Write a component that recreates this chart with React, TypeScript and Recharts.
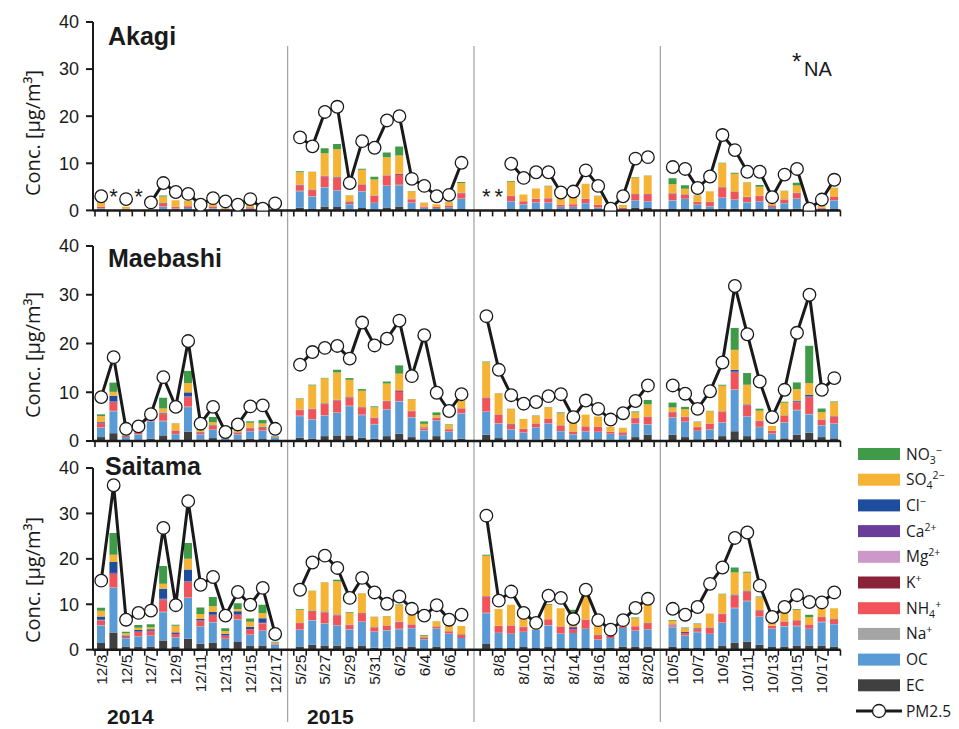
import React from 'react';
import { ComposedChart, Bar, Line, XAxis, YAxis } from 'recharts';

// sampling days, one block per campaign
const DEC_DAYS = ['12/3', '12/4', '12/5', '12/6', '12/7', '12/8', '12/9', '12/10', '12/11', '12/12', '12/13', '12/14', '12/15', '12/16', '12/17'];
const MAY_DAYS = ['5/25', '5/26', '5/27', '5/28', '5/29', '5/30', '5/31', '6/1', '6/2', '6/3', '6/4', '6/5', '6/6', '6/7'];
const AUG_DAYS = ['8/7', '8/8', '8/9', '8/10', '8/11', '8/12', '8/13', '8/14', '8/15', '8/16', '8/17', '8/18', '8/19', '8/20'];
const OCT_DAYS = ['10/5', '10/6', '10/7', '10/8', '10/9', '10/10', '10/11', '10/12', '10/13', '10/14', '10/15', '10/16', '10/17', '10/18'];
const PERIODS = [DEC_DAYS, MAY_DAYS, AUG_DAYS, OCT_DAYS];

const TICK_LABELS = ['12/3', '12/5', '12/7', '12/9', '12/11', '12/13', '12/15', '12/17', '5/25', '5/27', '5/29', '5/31', '6/2', '6/4', '6/6', '8/8', '8/10', '8/12', '8/14', '8/16', '8/18', '8/20', '10/5', '10/7', '10/9', '10/11', '10/13', '10/15', '10/17'];
const Y_TICKS = [0, 10, 20, 30, 40];
const YEAR_LABELS = ['2014', '2015'];

// ---- Akagi (null = not available) ----
const akagiEC = [
  0.1, null, 0.05, null, 0, 0.15, 0.05, 0.1, 0.05, 0.1, 0.05, 0, 0.05, 0, 0,
  0.55, 0.3, 0.85, 0.7, 0.2, 0.5, 0.15, 0.6, 0.85, 0.3, 0.05, 0.05, 0.1, 0.3,
  null, null, 0.3, 0.15, 0.2, 0.2, 0.05, 0.05, 0.2, 0.05, 0, 0.05, 0.6, 0.5,
  0.3, 0.3, 0.3, 0.1, 0.35, 0.35, 0.3, 0.3, 0.1, 0.2, 0.35, 0, 0.05, 0.3,
];
const akagiOC = [
  0.3, null, 0.1, null, 0.05, 0.6, 0.3, 0.4, 0.15, 0.3, 0.15, 0.1, 0.25, 0.05, 0.05,
  3.5, 2.6, 4.0, 3.5, 1.1, 3.5, 1.4, 4.6, 4.5, 1.3, 0.5, 0.45, 0.55, 2.1,
  null, null, 1.6, 1.1, 1.5, 1.4, 0.7, 0.7, 1.3, 0.55, 0.1, 0.2, 1.5, 1.4,
  1.8, 2.1, 0.9, 0.75, 2.3, 1.9, 1.4, 1.6, 0.6, 1.3, 2.1, 0.05, 0.3, 1.8,
];
const akagiNa = [
  0.05, null, 0.02, null, 0, 0.05, 0.03, 0.03, 0.02, 0.03, 0.02, 0.01, 0.03, 0, 0,
  0.1, 0.1, 0.1, 0.1, 0.05, 0.1, 0.08, 0.1, 0.1, 0.05, 0.03, 0.03, 0.04, 0.1,
  null, null, 0.05, 0.04, 0.05, 0.05, 0.03, 0.03, 0.05, 0.03, 0.01, 0.02, 0.06, 0.06,
  0.08, 0.08, 0.05, 0.05, 0.08, 0.08, 0.06, 0.06, 0.03, 0.05, 0.08, 0, 0.02, 0.06,
];
const akagiNH4 = [
  0.3, null, 0.15, null, 0.02, 0.6, 0.3, 0.3, 0.1, 0.3, 0.1, 0.05, 0.25, 0, 0,
  1.05, 1.3, 2.2, 2.55, 0.4, 1.3, 1.4, 2.0, 2.05, 0.7, 0.25, 0.2, 0.3, 1.05,
  null, null, 1.05, 0.6, 0.7, 0.9, 0.35, 0.5, 0.9, 0.5, 0.05, 0.25, 1.2, 1.4,
  1.3, 0.8, 0.5, 0.85, 2.0, 1.55, 1.05, 1.05, 0.3, 0.7, 1.05, 0, 0.2, 0.7,
];
const akagiK = [
  0.02, null, 0.01, null, 0, 0.05, 0.02, 0.02, 0.01, 0.02, 0.01, 0, 0.02, 0, 0,
  0.1, 0.06, 0.1, 0.1, 0.1, 0.06, 0.05, 0.08, 0.15, 0.04, 0.02, 0.02, 0.03, 0.1,
  null, null, 0.04, 0.03, 0.03, 0.04, 0.02, 0.02, 0.04, 0.02, 0, 0.01, 0.05, 0.05,
  0.06, 0.05, 0.03, 0.03, 0.06, 0.06, 0.04, 0.05, 0.02, 0.03, 0.05, 0, 0.01, 0.04,
];
const akagiMg = [
  0.01, null, 0, null, 0, 0.02, 0.01, 0.01, 0, 0.01, 0, 0, 0.01, 0, 0,
  0.05, 0.03, 0.04, 0.04, 0.05, 0.03, 0.02, 0.03, 0.04, 0.02, 0.01, 0.01, 0.01, 0.03,
  null, null, 0.02, 0.01, 0.02, 0.02, 0.01, 0.01, 0.02, 0.01, 0, 0.01, 0.02, 0.02,
  0.03, 0.03, 0.02, 0.02, 0.03, 0.03, 0.02, 0.02, 0.01, 0.02, 0.03, 0, 0.01, 0.02,
];
const akagiCa = [
  0.02, null, 0.01, null, 0, 0.03, 0.02, 0.02, 0.01, 0.02, 0.01, 0, 0.02, 0, 0,
  0.05, 0.04, 0.06, 0.06, 0.05, 0.04, 0.03, 0.05, 0.05, 0.03, 0.02, 0.02, 0.02, 0.04,
  null, null, 0.03, 0.02, 0.03, 0.03, 0.02, 0.02, 0.03, 0.02, 0, 0.01, 0.03, 0.03,
  0.04, 0.04, 0.03, 0.03, 0.05, 0.04, 0.03, 0.03, 0.02, 0.03, 0.04, 0, 0.01, 0.03,
];
const akagiCl = [
  0.03, null, 0.02, null, 0, 0.05, 0.02, 0.03, 0.01, 0.03, 0.01, 0.01, 0.03, 0, 0,
  0.02, 0.01, 0.02, 0.02, 0.01, 0.01, 0.01, 0.02, 0.02, 0.01, 0.01, 0, 0.01, 0.01,
  null, null, 0.01, 0.01, 0.01, 0.01, 0, 0, 0.01, 0, 0, 0, 0.01, 0.01,
  0.02, 0.02, 0.01, 0.01, 0.02, 0.02, 0.01, 0.01, 0.01, 0.01, 0.02, 0, 0.01, 0.01,
];
const akagiSO4 = [
  0.9, null, 0.4, null, 0.05, 1.4, 1.4, 1.1, 0.2, 0.7, 0.3, 0.15, 0.55, 0.05, 0.05,
  2.7, 3.7, 4.75, 5.9, 1.2, 3.1, 3.4, 3.8, 3.9, 1.6, 0.7, 0.5, 0.7, 2.1,
  null, null, 3.0, 1.4, 2.1, 2.5, 1.3, 1.6, 3.1, 1.9, 0.15, 0.6, 3.5, 3.9,
  1.9, 1.2, 1.3, 2.2, 5.1, 3.75, 3.0, 1.9, 0.6, 1.8, 1.55, 0.05, 0.3, 1.8,
];
const akagiNO3 = [
  0.03, null, 0, null, 0, 0.2, 0.02, 0.02, 0, 0.02, 0, 0, 0.02, 0, 0,
  0.2, 0.05, 1.1, 1.1, 0.05, 0.2, 0.6, 1.0, 1.9, 0.05, 0.05, 0.02, 0.05, 0.2,
  null, null, 0.15, 0.02, 0.03, 0.1, 0.02, 0.02, 0.03, 0.02, 0, 0.02, 0.1, 0.05,
  1.3, 0.7, 0.05, 0.05, 0.1, 0.2, 0.05, 0.35, 0.02, 0.05, 0.6, 0, 0.02, 0.05,
];
const akagiPM = [
  3.0, null, 2.4, null, 1.7, 5.8, 3.9, 3.5, 1.2, 2.6, 1.9, 1.2, 2.4, 0.35, 1.5,
  15.5, 13.6, 20.9, 22.0, 5.8, 14.7, 13.3, 19.1, 20.0, 6.7, 5.2, 3.0, 3.3, 10.1,
  null, null, 9.9, 6.9, 8.1, 8.1, 3.8, 4.0, 8.5, 5.2, 0.35, 3.0, 11.0, 11.3,
  9.2, 8.8, 4.75, 7.2, 16.0, 12.8, 8.2, 8.2, 2.8, 7.6, 8.8, 0.35, 2.3, 6.5,
];

// ---- Maebashi ----
const maebashiEC = [
  0.8, 1.6, 0.2, 0.2, 0.5, 1.15, 0.3, 1.9, 0.3, 0.6, 0.1, 0.3, 0.5, 0.4, 0.15,
  0.7, 0.5, 1.0, 1.15, 1.15, 0.7, 0.5, 1.0, 1.5, 0.8, 0.1, 1.0, 0.1, 0.5,
  1.3, 0.6, 0.35, 0.3, 0.3, 0.5, 0.35, 0.25, 0.35, 0.35, 0.25, 0.1, 0.8, 1.3,
  1.3, 0.8, 0.35, 0.5, 1.0, 2.0, 1.0, 0.55, 0.15, 0.55, 1.3, 1.7, 0.8, 0.55,
];
const maebashiOC = [
  1.9, 4.5, 0.6, 1.1, 3.5, 2.9, 1.1, 5.05, 1.0, 1.7, 0.4, 1.0, 1.5, 1.7, 0.5,
  4.4, 3.9, 4.2, 4.6, 6.0, 4.6, 2.9, 5.4, 6.6, 4.0, 2.0, 3.2, 1.8, 5.1,
  4.65, 2.95, 2.0, 1.4, 2.5, 3.1, 1.65, 1.1, 1.6, 1.5, 1.2, 1.1, 2.75, 2.05,
  3.5, 3.1, 1.7, 1.85, 2.75, 8.5, 4.0, 2.3, 1.35, 3.2, 5.0, 3.75, 2.4, 3.0,
];
const maebashiNa = [
  0.1, 0.1, 0.03, 0.05, 0.05, 0.1, 0.05, 0.1, 0.05, 0.05, 0.02, 0.05, 0.05, 0.05, 0.02,
  0.1, 0.1, 0.1, 0.1, 0.1, 0.1, 0.1, 0.1, 0.1, 0.1, 0.1, 0.05, 0.05, 0.1,
  0.1, 0.1, 0.05, 0.05, 0.05, 0.05, 0.05, 0.05, 0.05, 0.05, 0.05, 0.05, 0.05, 0.1,
  0.08, 0.08, 0.05, 0.05, 0.08, 0.1, 0.08, 0.05, 0.05, 0.08, 0.1, 0.1, 0.08, 0.08,
];
const maebashiNH4 = [
  0.8, 1.7, 0.2, 0.3, 0.4, 1.35, 0.6, 1.9, 0.4, 0.7, 0.1, 0.3, 0.55, 0.55, 0.1,
  1.1, 1.9, 2.25, 2.4, 1.5, 1.35, 1.15, 1.55, 1.9, 1.15, 0.3, 0.45, 0.4, 0.9,
  2.7, 1.7, 1.0, 0.7, 0.7, 0.9, 1.1, 0.5, 0.95, 1.0, 0.35, 0.5, 1.0, 1.45,
  0.95, 0.9, 0.7, 1.1, 2.1, 3.3, 2.25, 1.15, 0.5, 1.3, 1.5, 3.4, 1.0, 1.35,
];
const maebashiK = [
  0.1, 0.1, 0.02, 0.05, 0.03, 0.1, 0.03, 0.1, 0.03, 0.05, 0.01, 0.03, 0.05, 0.05, 0.01,
  0.05, 0.1, 0.1, 0.1, 0.15, 0.1, 0.1, 0.1, 0.15, 0.05, 0.1, 0.05, 0.03, 0.05,
  0.1, 0.05, 0.03, 0.03, 0.03, 0.03, 0.03, 0.02, 0.03, 0.03, 0.02, 0.02, 0.05, 0.05,
  0.05, 0.05, 0.03, 0.03, 0.05, 0.2, 0.08, 0.05, 0.02, 0.05, 0.08, 0.1, 0.05, 0.05,
];
const maebashiMg = [
  0.02, 0.03, 0.01, 0.01, 0.01, 0.02, 0.01, 0.03, 0.01, 0.01, 0, 0.01, 0.01, 0.01, 0,
  0.03, 0.03, 0.03, 0.05, 0.03, 0.03, 0.02, 0.03, 0.03, 0.02, 0.1, 0.02, 0.02, 0.02,
  0.03, 0.02, 0.01, 0.01, 0.01, 0.01, 0.01, 0.01, 0.01, 0.01, 0.01, 0.01, 0.02, 0.02,
  0.02, 0.02, 0.01, 0.02, 0.03, 0.05, 0.03, 0.02, 0.01, 0.02, 0.03, 0.03, 0.02, 0.02,
];
const maebashiCa = [
  0.05, 0.1, 0.02, 0.03, 0.03, 0.05, 0.03, 0.1, 0.03, 0.03, 0.01, 0.03, 0.03, 0.03, 0.01,
  0.05, 0.05, 0.05, 0.05, 0.05, 0.05, 0.03, 0.05, 0.1, 0.03, 0.1, 0.03, 0.03, 0.03,
  0.05, 0.03, 0.02, 0.02, 0.02, 0.02, 0.02, 0.02, 0.02, 0.02, 0.02, 0.02, 0.03, 0.03,
  0.03, 0.03, 0.02, 0.02, 0.05, 0.15, 0.05, 0.03, 0.02, 0.03, 0.05, 0.05, 0.03, 0.03,
];
const maebashiCl = [
  0.15, 1.15, 0.05, 0.05, 0.05, 0.1, 0.03, 0.8, 0.05, 0.1, 0.02, 0.05, 0.05, 0.1, 0.02,
  0.02, 0.02, 0.02, 0.02, 0.02, 0.02, 0.01, 0.02, 0.03, 0.02, 0.02, 0.02, 0.01, 0.02,
  0.02, 0.01, 0.01, 0.01, 0.01, 0.01, 0.01, 0.01, 0.01, 0.01, 0.01, 0.01, 0.02, 0.02,
  0.05, 0.03, 0.02, 0.02, 0.03, 0.3, 0.05, 0.03, 0.01, 0.03, 0.2, 0.35, 0.03, 0.03,
];
const maebashiSO4 = [
  1.2, 0.8, 0.15, 0.2, 0.3, 0.9, 1.45, 1.9, 0.3, 0.6, 0.1, 0.3, 1.0, 0.7, 0.1,
  2.2, 4.8, 5.1, 5.6, 3.55, 3.35, 2.1, 3.55, 3.4, 2.4, 0.7, 0.5, 0.9, 1.5,
  7.2, 4.3, 3.1, 2.0, 1.5, 2.3, 2.45, 1.9, 2.4, 2.05, 1.0, 0.9, 1.15, 2.5,
  0.9, 1.5, 1.0, 2.5, 5.25, 4.1, 4.0, 2.05, 1.0, 2.6, 2.4, 2.4, 1.5, 2.85,
];
const maebashiNO3 = [
  0.35, 1.9, 0.1, 0.1, 0.2, 2.2, 0.05, 2.5, 0.3, 1.1, 0.1, 0.3, 0.3, 0.7, 0.15,
  0.1, 0.15, 0.1, 0.55, 0.35, 0.35, 0.2, 0.4, 1.7, 0.05, 0.5, 0.55, 0.1, 0.1,
  0.15, 0.05, 0.05, 0, 0.1, 0.05, 0.2, 0, 0, 0, 0, 0, 0.2, 0.9,
  1.0, 0.5, 0.1, 0.1, 0.2, 4.5, 2.4, 0.4, 0, 0.2, 1.35, 7.65, 0.75, 0.15,
];
const maebashiPM = [
  9.0, 17.2, 2.5, 3.0, 5.5, 13.1, 7.0, 20.5, 3.55, 7.0, 1.85, 3.4, 7.1, 7.3, 2.5,
  15.65, 18.25, 19.1, 19.5, 16.9, 24.3, 19.6, 21.0, 24.7, 13.3, 21.7, 9.9, 6.15, 9.6,
  25.6, 14.6, 9.4, 7.65, 8.0, 9.2, 9.6, 4.9, 8.3, 6.6, 4.4, 5.7, 8.2, 11.4,
  11.4, 9.7, 6.6, 10.2, 16.1, 31.8, 21.9, 12.2, 4.9, 10.5, 22.2, 30.0, 10.5, 12.9,
];

// ---- Saitama ----
const saitamaEC = [
  1.45, 3.8, 0.7, 0.7, 0.7, 2.05, 0.6, 2.4, 1.3, 1.6, 0.35, 1.7, 0.95, 0.95, 0.1,
  0.7, 1.1, 0.95, 0.9, 0.6, 0.9, 0.45, 0.45, 0.7, 0.7, 0.1, 0.7, 0.35, 0.2,
  1.25, 0.35, 0.35, 0.6, 0.35, 0.6, 0.35, 0.35, 0.35, 0.35, 0.5, 0.7, 0.7, 0.7,
  0.7, 0.35, 0.35, 0.35, 0.9, 1.6, 1.75, 1.1, 0.6, 0.7, 0.9, 0.9, 0.9, 0.7,
];
const saitamaOC = [
  3.9, 9.8, 1.75, 2.2, 2.4, 6.2, 2.1, 9.0, 3.8, 4.4, 2.05, 4.9, 2.35, 3.2, 1.0,
  3.65, 5.35, 4.75, 4.4, 3.8, 5.2, 3.45, 3.8, 3.8, 4.0, 2.2, 3.9, 3.15, 2.35,
  6.8, 3.3, 3.1, 3.3, 4.0, 4.75, 3.15, 3.3, 4.2, 1.85, 2.05, 4.05, 3.45, 3.8,
  4.25, 2.7, 3.5, 3.1, 5.0, 7.55, 8.9, 6.1, 4.0, 4.4, 4.25, 3.65, 5.15, 4.9,
];
const saitamaNa = [
  0.1, 0.15, 0.05, 0.05, 0.05, 0.1, 0.05, 0.1, 0.08, 0.08, 0.03, 0.08, 0.05, 0.05, 0.02,
  0.1, 0.1, 0.1, 0.1, 0.1, 0.1, 0.08, 0.08, 0.1, 0.08, 0.05, 0.05, 0.05, 0.05,
  0.1, 0.1, 0.08, 0.05, 0.05, 0.08, 0.05, 0.05, 0.08, 0.05, 0.05, 0.05, 0.05, 0.08,
  0.1, 0.1, 0.08, 0.08, 0.1, 0.1, 0.1, 0.1, 0.05, 0.1, 0.1, 0.08, 0.08, 0.08,
];
const saitamaNH4 = [
  0.9, 2.8, 0.3, 0.95, 0.9, 2.55, 0.6, 3.3, 1.1, 1.45, 0.65, 0.95, 1.1, 1.55, 0.2,
  1.3, 1.8, 2.35, 2.05, 0.9, 1.75, 0.9, 0.9, 1.45, 0.7, 0.3, 0.35, 0.5, 0.7,
  3.45, 1.45, 1.7, 1.0, 0, 1.25, 1.45, 0.7, 1.9, 0.9, 0.4, 0.25, 0.95, 1.2,
  0.3, 0.45, 0.5, 1.2, 1.8, 2.55, 1.85, 1.25, 0.6, 0.9, 1.1, 0.8, 0.95, 0.95,
];
const saitamaK = [
  0.1, 0.2, 0.03, 0.05, 0.05, 0.15, 0.1, 0.15, 0.05, 0.08, 0.03, 0.05, 0.05, 0.08, 0.01,
  0.05, 0.05, 0.1, 0.15, 0.05, 0.05, 0.03, 0.03, 0.05, 0.03, 0.02, 0.03, 0.02, 0.02,
  0.05, 0.03, 0.03, 0.03, 0.02, 0.03, 0.03, 0.03, 0.03, 0.03, 0.02, 0.03, 0.03, 0.03,
  0.05, 0.05, 0.05, 0.05, 0.08, 0.15, 0.15, 0.08, 0.03, 0.05, 0.05, 0.05, 0.05, 0.05,
];
const saitamaMg = [
  0.05, 0.05, 0.02, 0.02, 0.02, 0.05, 0.03, 0.05, 0.03, 0.03, 0.01, 0.03, 0.02, 0.03, 0.01,
  0.03, 0.03, 0.03, 0.03, 0.03, 0.03, 0.02, 0.02, 0.03, 0.02, 0.02, 0.02, 0.02, 0.02,
  0.03, 0.02, 0.02, 0.02, 0.01, 0.02, 0.02, 0.03, 0.02, 0.02, 0.01, 0.01, 0.02, 0.02,
  0.1, 0.05, 0.03, 0.02, 0.03, 0.05, 0.05, 0.03, 0.02, 0.02, 0.02, 0.02, 0.02, 0.02,
];
const saitamaCa = [
  0.1, 0.3, 0.05, 0.05, 0.05, 0.1, 0.3, 0.1, 0.05, 0.05, 0.03, 0.05, 0.05, 0.05, 0.02,
  0.05, 0.05, 0.1, 0.1, 0.05, 0.05, 0.03, 0.03, 0.05, 0.03, 0.03, 0.03, 0.03, 0.03,
  0.05, 0.03, 0.03, 0.03, 0.02, 0.03, 0.03, 0.5, 0.03, 0.03, 0.02, 0.02, 0.03, 0.03,
  0.1, 0.2, 0.2, 0.05, 0.05, 0.1, 0.08, 0.05, 0.03, 0.03, 0.03, 0.03, 0.03, 0.03,
];
const saitamaCl = [
  0.7, 2.2, 0.2, 0.3, 0.35, 2.2, 0.05, 2.55, 0.35, 0.6, 0.35, 0.7, 0.5, 1.0, 0.05,
  0.02, 0.02, 0.02, 0.02, 0.02, 0.02, 0.02, 0.02, 0.02, 0.02, 0.01, 0.01, 0.01, 0.01,
  0.02, 0.01, 0.01, 0.01, 0.01, 0.01, 0.01, 0.01, 0.01, 0.01, 0.01, 0.01, 0.01, 0.01,
  0.02, 0.02, 0.02, 0.02, 0.03, 0.05, 0.05, 0.03, 0.02, 0.02, 0.02, 0.02, 0.02, 0.02,
];
const saitamaSO4 = [
  1.25, 1.6, 0.5, 0.5, 0.4, 1.1, 1.45, 2.35, 1.1, 1.25, 0.6, 0.5, 1.1, 1.1, 0.2,
  2.85, 4.4, 6.4, 7.3, 2.55, 4.25, 2.2, 2.05, 3.6, 2.05, 0.35, 1.1, 1.1, 1.85,
  8.95, 3.65, 4.55, 2.05, 0.1, 3.15, 4.05, 3.3, 5.3, 2.2, 0.3, 0, 1.7, 4.2,
  0.75, 0.8, 0.9, 3.1, 4.2, 4.85, 4.0, 2.8, 0.5, 1.85, 2.35, 1.6, 2.05, 2.4,
];
const saitamaNO3 = [
  0.7, 4.8, 0.35, 0.6, 0.7, 3.9, 0.2, 3.5, 1.45, 2.05, 0.6, 1.25, 0.7, 1.9, 0.15,
  0.15, 0.1, 0.05, 0.35, 0.15, 0.05, 0.05, 0.05, 0.15, 0.05, 0.15, 0.05, 0, 0,
  0.2, 0, 0.05, 0, 0, 0.15, 0, 0.5, 0, 0, 0, 0, 0.15, 0,
  0.15, 0.15, 0.15, 0, 0.1, 1.1, 0.25, 0.15, 0, 0, 0.15, 0.55, 0, 0,
];
const saitamaPM = [
  15.2, 36.2, 6.6, 8.1, 8.6, 26.8, 9.8, 32.7, 14.3, 16.0, 7.5, 12.7, 9.9, 13.6, 3.45,
  13.2, 19.2, 20.7, 18.0, 11.4, 15.8, 12.6, 10.1, 11.7, 9.0, 7.5, 9.8, 6.6, 7.7,
  29.5, 10.8, 12.8, 8.1, 5.9, 11.9, 11.4, 6.75, 13.2, 6.5, 4.4, 6.5, 9.2, 11.2,
  9.0, 7.7, 9.4, 14.5, 18.1, 24.6, 25.8, 14.1, 7.2, 9.4, 12.0, 10.5, 10.4, 12.6,
];

// stack order bottom -> top; label parts: n = normal, b = subscript, p = superscript
const SPECIES = [
  { key: 'EC', color: '#404040', label: [['EC', 'n']] },
  { key: 'OC', color: '#5b9bd5', label: [['OC', 'n']] },
  { key: 'Na', color: '#a5a5a5', label: [['Na', 'n'], ['+', 'p']] },
  { key: 'NH4', color: '#f0545a', label: [['NH', 'n'], ['4', 'b'], ['+', 'p']] },
  { key: 'K', color: '#8b2338', label: [['K', 'n'], ['+', 'p']] },
  { key: 'Mg', color: '#cc98c9', label: [['Mg', 'n'], ['2+', 'p']] },
  { key: 'Ca', color: '#6a3d9a', label: [['Ca', 'n'], ['2+', 'p']] },
  { key: 'Cl', color: '#1f4d9e', label: [['Cl', 'n'], ['\u2212', 'p']] },
  { key: 'SO4', color: '#f6b436', label: [['SO', 'n'], ['4', 'b'], ['2\u2212', 'p']] },
  { key: 'NO3', color: '#3f9b47', label: [['NO', 'n'], ['3', 'b'], ['\u2212', 'p']] },
];

const SITES = [
  {
    name: 'Akagi', pm: akagiPM,
    series: { EC: akagiEC, OC: akagiOC, Na: akagiNa, NH4: akagiNH4, K: akagiK, Mg: akagiMg, Ca: akagiCa, Cl: akagiCl, SO4: akagiSO4, NO3: akagiNO3 },
  },
  {
    name: 'Maebashi', pm: maebashiPM,
    series: { EC: maebashiEC, OC: maebashiOC, Na: maebashiNa, NH4: maebashiNH4, K: maebashiK, Mg: maebashiMg, Ca: maebashiCa, Cl: maebashiCl, SO4: maebashiSO4, NO3: maebashiNO3 },
  },
  {
    name: 'Saitama', pm: saitamaPM,
    series: { EC: saitamaEC, OC: saitamaOC, Na: saitamaNa, NH4: saitamaNH4, K: saitamaK, Mg: saitamaMg, Ca: saitamaCa, Cl: saitamaCl, SO4: saitamaSO4, NO3: saitamaNO3 },
  },
];

// layout
const W = 850;
const PLOT_LEFT = 93;
const PLOT_RIGHT = 840.5;
const PAD_LEFT = 2;
const MARGIN_TOP = 10;
const NA_MARK = 4;
const INK = '#1a1a1a';
const PANEL_POS = [
  { top: 22.3, plotH: 188.4, titleX: 108, titleY: 45, labelY: 133 },
  { top: 245.7, plotH: 195, titleX: 108, titleY: 267, labelY: 355 },
  { top: 468.3, plotH: 181.7, titleX: 105, titleY: 475, labelY: 580 },
];

function buildRows(series: Record<string, (number | null)[]>, pm: (number | null)[]) {
  const rows: any[] = [];
  let k = 0;
  PERIODS.forEach((days, p) => {
    if (p > 0) rows.push({ day: `gap${p}`, PM: null, na: null });
    days.forEach((day) => {
      const row: any = { day, PM: pm[k], na: pm[k] == null ? NA_MARK : null };
      SPECIES.forEach((s) => {
        row[s.key] = series[s.key][k] ?? 0;
      });
      rows.push(row);
      k++;
    });
  });
  return rows;
}

const ROWS = SITES.map((s) => buildRows(s.series, s.pm));
const N_SLOTS = ROWS[0].length;
const SLOT = (PLOT_RIGHT - PLOT_LEFT - PAD_LEFT) / N_SLOTS;
const slotX = (i: number) => PLOT_LEFT + PAD_LEFT + SLOT * (i + 0.5);

const renderTick = (showLabels: boolean) => (props: any) => {
  const { x, y, payload, index } = props;
  const half = SLOT / 2;
  const show = showLabels && TICK_LABELS.includes(payload.value);
  return (
    <g>
      <line x1={x - half} x2={x - half} y1={y} y2={y + 6} stroke={INK} strokeWidth={1.6} />
      {index === N_SLOTS - 1 && <line x1={x + half} x2={x + half} y1={y} y2={y + 6} stroke={INK} strokeWidth={1.6} />}
      {show && (
        <text
          transform={`translate(${x + 5.5},${y + 5}) rotate(-90)`}
          textAnchor="end"
          fontSize={15.5}
          fontFamily="Liberation Sans, Arial, sans-serif"
          fill={INK}
        >
          {payload.value}
        </text>
      )}
    </g>
  );
};

const renderNA = (p: any) => {
  const { cx, cy, value, index } = p;
  if (value == null || cy == null) return <g key={`na${index}`} />;
  return (
    <text key={`na${index}`} x={cx} y={cy + 12} textAnchor="middle" fontSize={22} fontFamily="Liberation Sans, Arial, sans-serif" fill={INK}>
      *
    </text>
  );
};

const OFFS: Record<string, number> = { n: 0, b: 4, p: -6 };

const ChemText = ({ x, y, parts }: { x: number; y: number; parts: string[][] }) => {
  let cur = 0;
  return (
    <text x={x} y={y} fontSize={15.5} fontFamily="Open Sans, sans-serif" fill={INK}>
      {parts.map(([t, k], i) => {
        const dy = OFFS[k] - cur;
        cur = OFFS[k];
        return (
          <tspan key={i} dy={dy} fontSize={k === 'n' ? 15.5 : 10.5}>
            {t}
          </tspan>
        );
      })}
    </text>
  );
};

const Panel = ({ rows, pos, showLabels }: { rows: any[]; pos: any; showLabels: boolean }) => {
  // room under the axis so the "0" tick label is not clipped
  const xAxisH = showLabels ? 60 : 16;
  const height = MARGIN_TOP + pos.plotH + xAxisH;
  return (
    <div style={{ position: 'absolute', left: 0, top: pos.top - MARGIN_TOP }}>
      <ComposedChart
        width={W}
        height={height}
        data={rows}
        margin={{ top: MARGIN_TOP, right: W - PLOT_RIGHT, left: 0, bottom: 0 }}
        barSize={8}
        barGap={0}
      >
        <XAxis
          dataKey="day"
          interval={0}
          height={xAxisH}
          padding={{ left: PAD_LEFT, right: 0 }}
          tickSize={0}
          tickMargin={0}
          tickLine={false}
          axisLine={{ stroke: INK, strokeWidth: 2.5 }}
          tick={renderTick(showLabels)}
        />
        <YAxis
          type="number"
          width={PLOT_LEFT}
          domain={[0, 40]}
          ticks={Y_TICKS}
          interval={0}
          allowDataOverflow
          tickSize={7}
          tickMargin={7}
          axisLine={{ stroke: INK, strokeWidth: 2 }}
          tickLine={{ stroke: INK, strokeWidth: 2 }}
          tick={{ fontSize: 18, fill: INK, fontFamily: 'Liberation Sans, Arial, sans-serif' }}
        />
        {SPECIES.map((s) => (
          <Bar key={s.key} dataKey={s.key} stackId="comp" fill={s.color} isAnimationActive={false} />
        ))}
        <Line
          dataKey="PM"
          type="linear"
          stroke={INK}
          strokeWidth={3}
          connectNulls={false}
          dot={{ r: 6.3, fill: '#ffffff', stroke: INK, strokeWidth: 1.3 }}
          activeDot={false}
          isAnimationActive={false}
        />
        <Line dataKey="na" stroke="none" dot={renderNA} activeDot={false} isAnimationActive={false} />
      </ComposedChart>
    </div>
  );
};

const Overlay = () => {
  const gaps = ROWS[0].map((r, i) => (String(r.day).startsWith('gap') ? i : -1)).filter((i) => i >= 0);
  const legend = [...SPECIES].reverse();
  const rowY = (i: number) => 454 + i * 25.7;
  const font = 'Liberation Sans, Arial, sans-serif';
  return (
    <svg width={959} height={729} style={{ position: 'absolute', left: 0, top: 0 }}>
      {gaps.map((i) => (
        <line key={i} x1={slotX(i)} x2={slotX(i)} y1={46} y2={722} stroke="#a6a6a6" strokeWidth={1.3} />
      ))}
      {SITES.map((s, i) => (
        <g key={s.name}>
          <text x={PANEL_POS[i].titleX} y={PANEL_POS[i].titleY} fontSize={25} fontWeight="bold" fontFamily={font} fill={INK}>
            {s.name}
          </text>
          <text
            transform={`translate(40,${PANEL_POS[i].labelY}) rotate(-90)`}
            textAnchor="middle"
            fontSize={20}
            fontFamily="Open Sans, sans-serif"
            fill={INK}
          >
            Conc. [μg/m³]
          </text>
        </g>
      ))}
      <text x={792} y={70} fontSize={24} fontFamily={font} fill={INK}>*</text>
      <text x={804} y={76} fontSize={20} fontFamily={font} fill={INK}>NA</text>
      {YEAR_LABELS.map((t, i) => (
        <text key={t} x={[107, 307][i]} y={724} fontSize={21} fontWeight="bold" fontFamily={font} fill={INK}>
          {t}
        </text>
      ))}
      {legend.map((s, i) => (
        <g key={s.key}>
          <rect x={858} y={rowY(i) - 6} width={42} height={12} fill={s.color} />
          <ChemText x={906} y={rowY(i) + 5.5} parts={s.label} />
        </g>
      ))}
      <line x1={856} x2={902} y1={rowY(10)} y2={rowY(10)} stroke={INK} strokeWidth={3} />
      <circle cx={879} cy={rowY(10)} r={6.5} fill="#ffffff" stroke={INK} strokeWidth={1.3} />
      <text x={906} y={rowY(10) + 5.5} fontSize={15.5} fontFamily="Open Sans, sans-serif" fill={INK}>PM2.5</text>
    </svg>
  );
};

export default function App() {
  return (
    <div style={{ position: 'fixed', left: 0, top: 0, width: 959, height: 729, background: '#ffffff', overflow: 'hidden' }}>
      <Overlay />
      {ROWS.map((rows, i) => (
        <Panel key={SITES[i].name} rows={rows} pos={PANEL_POS[i]} showLabels={i === ROWS.length - 1} />
      ))}
    </div>
  );
}
